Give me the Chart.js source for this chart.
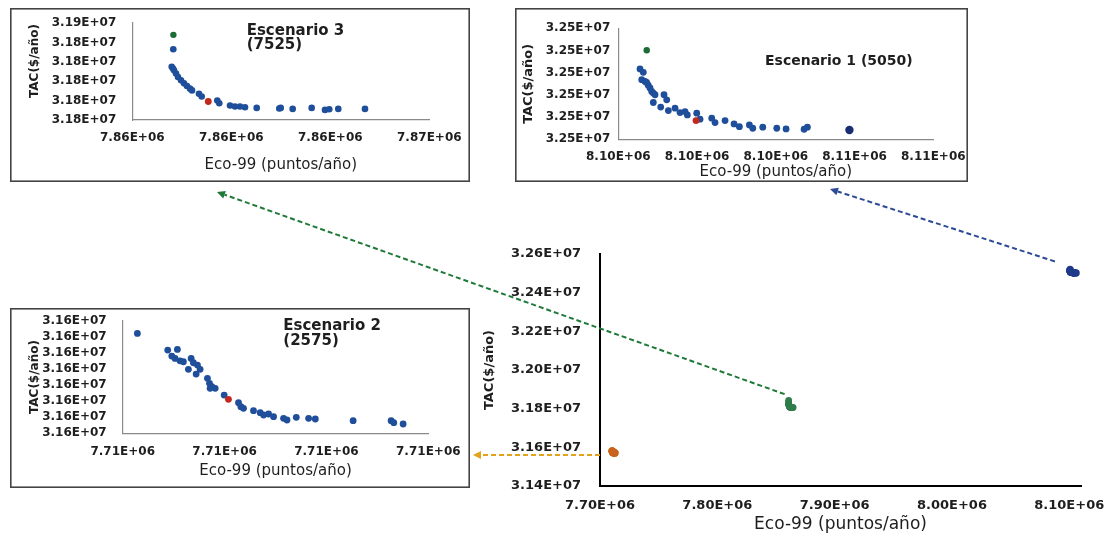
<!DOCTYPE html>
<html>
<head>
<meta charset="utf-8">
<script src="https://cdn.jsdelivr.net/npm/chart.js@4.4.1/dist/chart.umd.min.js"></script>
<style>
  html, body { margin: 0; padding: 0; background: #fff; }
  #stage { position: relative; width: 1106px; height: 536px; overflow: hidden; background: #fff; }
  #stage canvas { position: absolute; display: block; }
</style>
</head>
<body>
<div id="stage">
  <canvas id="main" width="1106" height="536" style="left:0;top:0"></canvas>
  <canvas id="esc3" width="460" height="174" style="left:10px;top:8px"></canvas>
  <canvas id="esc1" width="453" height="174" style="left:515px;top:8px"></canvas>
  <canvas id="esc2" width="460" height="180" style="left:10px;top:308px"></canvas>
</div>
<script>
// ---------- Escenario 1 (5050) ----------
const ESC1_ECO = [8100551, 8100635, 8100595, 8100678, 8100720, 8100760, 8100805, 8100849, 8100889, 8100933,
  8101161, 8101230, 8100889, 8101077, 8101271, 8101441, 8101568, 8101695, 8101753, 8101992,
  8102076, 8102373, 8102457, 8102711, 8102940, 8103075, 8103329, 8103415, 8103669, 8104025,
  8104261, 8104719, 8104802];
const ESC1_TAC = [32515850, 32515080, 32513430, 32513040, 32512800, 32512200, 32511550, 32510780, 32510410, 32510030,
  32510030, 32508900, 32508290, 32507250, 32506480, 32507020, 32506020, 32506250, 32505500, 32505890,
  32504530, 32504750, 32503760, 32504210, 32503460, 32502850, 32503240, 32502490, 32502720, 32502490,
  32502330, 32502260, 32502720];
const ESC1_EXT_ECO = [8100722];
const ESC1_EXT_TAC = [32520060];
const ESC1_SEL_ECO = [8101974];
const ESC1_SEL_TAC = [32504210];
const ESC1_FAR_ECO = [8105870];
const ESC1_FAR_TAC = [32502110];
const ESC1_ECO_TICKS = [8100000, 8102000, 8104000, 8106000, 8108000];
const ESC1_TAC_TICKS = [32500000, 32505000, 32510000, 32515000, 32520000, 32525000];

// ---------- Escenario 2 (2575) ----------
const ESC2_ECO = [7710144, 7710442, 7710537, 7710482, 7710514, 7710563, 7710596, 7710672, 7710694, 7710734,
  7710645, 7710760, 7710721, 7710832, 7710852, 7710875, 7710908, 7710858, 7710996, 7711137,
  7711160, 7711186, 7711284, 7711350, 7711383, 7711432, 7711481, 7711579, 7711613, 7711704,
  7711825, 7711891, 7712262, 7712635, 7712661, 7712753];
const ESC2_TAC = [31582420, 31580346, 31580433, 31579601, 31579315, 31579017, 31578893, 31579315, 31578769, 31578483,
  31577949, 31577949, 31577365, 31576831, 31576210, 31575788, 31575589, 31575589, 31574757, 31573801,
  31573304, 31573105, 31572807, 31572559, 31572273, 31572397, 31572062, 31571863, 31571652, 31571987,
  31571863, 31571776, 31571565, 31571565, 31571317, 31571155];
const ESC2_SEL_ECO = [7711038];
const ESC2_SEL_TAC = [31574223];
const ESC2_ECO_TICKS = [7710000, 7711000, 7712000, 7713000];
const ESC2_TAC_TICKS = [31570000, 31572000, 31574000, 31576000, 31578000, 31580000, 31582000, 31584000];

// ---------- Escenario 3 (7525) ----------
const ESC3_ECO = [7860828, 7860796, 7860822, 7860842, 7860883, 7860923, 7860984, 7861044, 7861105, 7861166,
  7861206, 7861347, 7861402, 7861717, 7861757, 7861974, 7862075, 7862176, 7862277, 7862513,
  7862969, 7862998, 7863240, 7863624, 7863893, 7863979, 7864161, 7864701];
const ESC3_TAC = [31836460, 31827390, 31826560, 31825680, 31823960, 31822190, 31820470, 31818900, 31817500, 31816150,
  31815260, 31813540, 31812140, 31810050, 31808650, 31807450, 31806930, 31806930, 31806560, 31806250,
  31805890, 31806250, 31805730, 31806250, 31805210, 31805520, 31805730, 31805730];
const ESC3_EXT_ECO = [7860830];
const ESC3_EXT_TAC = [31843900];
const ESC3_SEL_ECO = [7861535];
const ESC3_SEL_TAC = [31809530];
const ESC3_ECO_TICKS = [7860000, 7862000, 7864000, 7866000];
const ESC3_TAC_TICKS = [31800000, 31810000, 31820000, 31830000, 31840000, 31850000];

// ---------- overall view ----------
const MAIN_ECO_TICKS = [7700000, 7800000, 7900000, 8000000, 8100000];
const MAIN_ECO_MAX = 8110000;
const MAIN_TAC_TICKS = [31400000, 31600000, 31800000, 32000000, 32200000, 32400000, 32600000];

const TITLE_ECO = 'Eco-99 (puntos/año)';
const TITLE_TAC = 'TAC($/año)';

const FONT = "'DejaVu Sans', 'Liberation Sans', sans-serif";
const INK = '#1e1e1e';
const C_BLUE = '#1f4e9a';
const C_NAVY = '#1a2d70';
const C_GREEN = '#1d6b35';
const C_RED = '#c3281c';
const C_MAIN_ORANGE = '#c8641e';
const C_MAIN_GREEN = '#2f7d4a';
const C_MAIN_BLUE = '#1f3a8a';

Chart.defaults.animation = false;
Chart.defaults.font.family = FONT;

function sci(v) {
  const parts = Number(v).toExponential(2).split('e');
  const e = parseInt(parts[1], 10);
  return parts[0] + 'E' + (e < 0 ? '-' : '+') + String(Math.abs(e)).padStart(2, '0');
}

function pts(xs, ys) {
  return xs.map((x, i) => ({ x: x, y: ys[i] }));
}

function xAxis(o) {
  return {
    type: 'linear', position: 'bottom',
    min: o.ticks[0], max: o.max !== undefined ? o.max : o.ticks[o.ticks.length - 1],
    afterBuildTicks: s => { s.ticks = o.ticks.map(v => ({ value: v })); },
    afterFit: s => { s.height = o.size; s.paddingLeft = 0; s.paddingRight = 0; },
    grid: { display: false, drawTicks: false, tickLength: 0 },
    border: { display: true, color: o.line, width: o.lineWidth },
    ticks: {
      color: INK, padding: o.tickPad, autoSkip: false, maxRotation: 0,
      font: { family: FONT, size: o.tickSize, weight: 'bold' },
      callback: v => sci(v)
    },
    title: {
      display: true, text: TITLE_ECO, color: INK,
      font: { family: FONT, size: o.titleSize, weight: 'normal' },
      padding: { top: 0, bottom: o.titlePad }
    }
  };
}

function yAxis(o) {
  return {
    type: 'linear', position: 'left',
    min: o.ticks[0], max: o.ticks[o.ticks.length - 1],
    afterBuildTicks: s => { s.ticks = o.ticks.map(v => ({ value: v })); },
    afterFit: s => { s.width = o.size; s.paddingTop = 0; s.paddingBottom = 0; },
    grid: { display: false, drawTicks: false, tickLength: 0 },
    border: { display: true, color: o.line, width: o.lineWidth },
    ticks: {
      color: INK, padding: o.tickPad, autoSkip: false,
      font: { family: FONT, size: o.tickSize, weight: 'bold' },
      callback: v => sci(v)
    },
    title: {
      display: o.titleAt === undefined, text: TITLE_TAC, color: INK,
      font: { family: FONT, size: o.titleSize, weight: 'bold' },
      padding: { top: o.titlePad, bottom: 0 }
    }
  };
}

// white card with a frame, the scenario caption and (optionally) a placed axis title
const insetFrame = {
  id: 'insetFrame',
  beforeDraw(chart) {
    const ctx = chart.ctx;
    ctx.save();
    ctx.fillStyle = '#ffffff';
    ctx.fillRect(0, 0, chart.width, chart.height);
    ctx.restore();
  },
  afterDraw(chart, args, opts) {
    const ctx = chart.ctx;
    ctx.save();
    ctx.strokeStyle = '#444444';
    ctx.lineWidth = 1.6;
    ctx.strokeRect(0.8, 0.8, chart.width - 1.6, chart.height - 1.6);
    ctx.fillStyle = INK;
    ctx.font = 'bold ' + opts.size + 'px ' + FONT;
    ctx.textAlign = 'left';
    ctx.textBaseline = 'alphabetic';
    (opts.lines || []).forEach(l => ctx.fillText(l.text, l.x, l.y));
    if (opts.yTitle) {
      ctx.translate(opts.yTitle.x, opts.yTitle.y);
      ctx.rotate(-Math.PI / 2);
      ctx.font = 'bold ' + opts.yTitle.size + 'px ' + FONT;
      ctx.textAlign = 'center';
      ctx.textBaseline = 'middle';
      ctx.fillText(TITLE_TAC, 0, 0);
    }
    ctx.restore();
  }
};

function scatterSet(data, color, r) {
  return { data: data, backgroundColor: color, borderWidth: 0, pointRadius: r, pointHoverRadius: r };
}

function inset(id, o) {
  return new Chart(document.getElementById(id), {
    type: 'scatter',
    data: { datasets: o.datasets },
    options: {
      responsive: false, devicePixelRatio: 1, animation: false,
      layout: { padding: o.padding },
      plugins: { legend: { display: false }, tooltip: { enabled: false }, insetFrame: o.caption },
      scales: { x: xAxis(o.x), y: yAxis(o.y) }
    },
    plugins: [insetFrame]
  });
}

// Escenario 3 (7525)
inset('esc3', {
  padding: { left: 8, right: 40.7, top: 15, bottom: 0 },
  caption: {
    size: 15,
    lines: [{ text: 'Escenario 3', x: 236.7, y: 27 }, { text: '(7525)', x: 236.7, y: 41 }],
    yTitle: { x: 25, y: 53, size: 12 }
  },
  datasets: [
    scatterSet(pts(ESC3_EXT_ECO, ESC3_EXT_TAC), C_GREEN, 3.2),
    scatterSet(pts(ESC3_SEL_ECO, ESC3_SEL_TAC), C_RED, 3.4),
    scatterSet(pts(ESC3_ECO, ESC3_TAC), C_BLUE, 3.3)
  ],
  x: { ticks: ESC3_ECO_TICKS, size: 62, line: '#8a8a8a', lineWidth: 1.2, tickPad: 11, tickSize: 12, titleSize: 15, titlePad: 8 },
  y: { ticks: ESC3_TAC_TICKS, size: 114.3, line: '#8a8a8a', lineWidth: 1.2, tickPad: 16, tickSize: 12, titleAt: 'caption' }
});

// Escenario 1 (5050)
inset('esc1', {
  padding: { left: 2, right: 34.7, top: 20.3, bottom: 0 },
  caption: { size: 14, lines: [{ text: 'Escenario 1 (5050)', x: 250, y: 57 }] },
  datasets: [
    scatterSet(pts(ESC1_EXT_ECO, ESC1_EXT_TAC), C_GREEN, 3.2),
    scatterSet(pts(ESC1_SEL_ECO, ESC1_SEL_TAC), C_RED, 3.4),
    scatterSet(pts(ESC1_FAR_ECO, ESC1_FAR_TAC), C_NAVY, 4.2),
    scatterSet(pts(ESC1_ECO, ESC1_TAC), C_BLUE, 3.4)
  ],
  x: { ticks: ESC1_ECO_TICKS, size: 42.7, line: '#8a8a8a', lineWidth: 1.2, tickPad: 10, tickSize: 12, titleSize: 15, titlePad: 1 },
  y: { ticks: ESC1_TAC_TICKS, size: 101.3, line: '#8a8a8a', lineWidth: 1.2, tickPad: 8, tickSize: 12, titleSize: 13, titlePad: 4 }
});

// Escenario 2 (2575)
inset('esc2', {
  padding: { left: 8, right: 41.7, top: 12.7, bottom: 0 },
  caption: { size: 15, lines: [{ text: 'Escenario 2', x: 273.3, y: 22 }, { text: '(2575)', x: 273.3, y: 37 }] },
  datasets: [
    scatterSet(pts(ESC2_SEL_ECO, ESC2_SEL_TAC), C_RED, 3.4),
    scatterSet(pts(ESC2_ECO, ESC2_TAC), C_BLUE, 3.4)
  ],
  x: { ticks: ESC2_ECO_TICKS, size: 54.7, line: '#8a8a8a', lineWidth: 1.2, tickPad: 11, tickSize: 12, titleSize: 15, titlePad: 8 },
  y: { ticks: ESC2_TAC_TICKS, size: 104.7, line: '#8a8a8a', lineWidth: 1.2, tickPad: 16, tickSize: 12, titleSize: 12, titlePad: 10 }
});

// dashed leader lines from each cluster to its detail card
function dashedArrow(ctx, x1, y1, x2, y2, color) {
  const ang = Math.atan2(y2 - y1, x2 - x1);
  const head = 8, half = 4;
  const bx = x2 - Math.cos(ang) * head, by = y2 - Math.sin(ang) * head;
  ctx.save();
  ctx.strokeStyle = color;
  ctx.fillStyle = color;
  ctx.lineWidth = 2;
  ctx.setLineDash([5, 3]);
  ctx.beginPath();
  ctx.moveTo(x1, y1);
  ctx.lineTo(bx, by);
  ctx.stroke();
  ctx.setLineDash([]);
  ctx.beginPath();
  ctx.moveTo(x2, y2);
  ctx.lineTo(bx + Math.sin(ang) * half, by - Math.cos(ang) * half);
  ctx.lineTo(bx - Math.sin(ang) * half, by + Math.cos(ang) * half);
  ctx.closePath();
  ctx.fill();
  ctx.restore();
}

const CARD3 = { left: 10, top: 8, right: 470, bottom: 182 };
const CARD1 = { left: 515, top: 8, right: 968, bottom: 182 };
const CARD2 = { left: 10, top: 308, right: 470, bottom: 488 };

const leaders = {
  id: 'leaders',
  afterDraw(chart) {
    const ctx = chart.ctx, xs = chart.scales.x, ys = chart.scales.y;
    const e3 = ESC3_ECO.concat(ESC3_EXT_ECO, ESC3_SEL_ECO), t3 = ESC3_TAC.concat(ESC3_EXT_TAC, ESC3_SEL_TAC);
    const e1 = ESC1_ECO.concat(ESC1_EXT_ECO, ESC1_SEL_ECO, ESC1_FAR_ECO), t1 = ESC1_TAC.concat(ESC1_EXT_TAC, ESC1_SEL_TAC, ESC1_FAR_TAC);
    const t2 = ESC2_TAC.concat(ESC2_SEL_TAC);
    dashedArrow(ctx,
      xs.getPixelForValue(Math.min.apply(null, e3)) - 4, ys.getPixelForValue(Math.max.apply(null, t3)) - 6,
      CARD3.left + 207, CARD3.bottom + 10, '#1f7a3a');
    dashedArrow(ctx,
      xs.getPixelForValue(Math.min.apply(null, e1)) - 15, ys.getPixelForValue(Math.max.apply(null, t1)) - 8,
      CARD1.left + 315, CARD1.bottom + 7, '#2c4a96');
    const y2 = ys.getPixelForValue(Math.min.apply(null, t2)) + 2;
    dashedArrow(ctx, chart.chartArea.left, y2, CARD2.right + 3, y2, '#e3a21a');
  }
};

new Chart(document.getElementById('main'), {
  type: 'scatter',
  data: {
    datasets: [
      scatterSet(pts(ESC2_ECO.concat(ESC2_SEL_ECO), ESC2_TAC.concat(ESC2_SEL_TAC)), C_MAIN_ORANGE, 3.6),
      scatterSet(pts(ESC3_ECO.concat(ESC3_EXT_ECO, ESC3_SEL_ECO), ESC3_TAC.concat(ESC3_EXT_TAC, ESC3_SEL_TAC)), C_MAIN_GREEN, 3.3),
      scatterSet(pts(ESC1_ECO.concat(ESC1_EXT_ECO, ESC1_SEL_ECO, ESC1_FAR_ECO), ESC1_TAC.concat(ESC1_EXT_TAC, ESC1_SEL_TAC, ESC1_FAR_TAC)), C_MAIN_BLUE, 3.6)
    ]
  },
  options: {
    responsive: false, devicePixelRatio: 1, animation: false,
    layout: { padding: { left: 470, right: 25, top: 254, bottom: 0 } },
    plugins: { legend: { display: false }, tooltip: { enabled: false } },
    scales: {
      x: xAxis({ ticks: MAIN_ECO_TICKS, max: MAIN_ECO_MAX, size: 50, line: '#000', lineWidth: 2, tickPad: 12, tickSize: 13, titleSize: 17, titlePad: 1 }),
      y: yAxis({ ticks: MAIN_TAC_TICKS, size: 130, line: '#000', lineWidth: 2, tickPad: 19, tickSize: 13, titleSize: 13, titlePad: 12 })
    }
  },
  plugins: [leaders]
});
</script>
</body>
</html>
